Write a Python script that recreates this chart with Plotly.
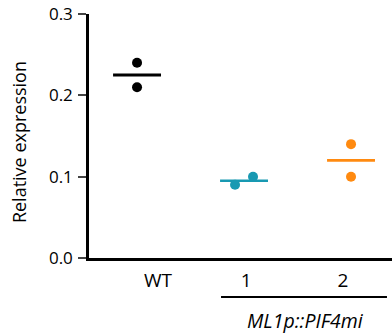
import plotly.graph_objects as go

groups = ["WT", "1", "2"]
group_pos = [0, 1, 2]
points_x = [[0, 0], [0.916, 1.084], [2, 2]]
points_y = [[0.24, 0.21], [0.09, 0.10], [0.14, 0.10]]
means = [0.225, 0.095, 0.12]
colors = ["#000000", "#1899B2", "#FF8A10"]
label_pos = [0.196, 1.02, 1.925]
yticks = [0.0, 0.1, 0.2, 0.3]
ytick_text = ["0.0", "0.1", "0.2", "0.3"]

FONT = "Open Sans"
half = 0.224

fig = go.Figure()
for i in range(3):
    fig.add_trace(go.Scatter(
        x=[group_pos[i] - half, group_pos[i] + half], y=[means[i], means[i]],
        mode="lines", line=dict(color=colors[i], width=3 if i == 0 else 2.6),
        showlegend=False, hoverinfo="skip"))
    fig.add_trace(go.Scatter(
        x=points_x[i], y=points_y[i], mode="markers",
        marker=dict(color=colors[i], size=10, line=dict(width=0)),
        showlegend=False))

fig.add_shape(type="line", xref="x", yref="paper", x0=0.785, x1=2.336, y0=-0.16, y1=-0.16,
              line=dict(color="black", width=2))
fig.add_annotation(text="<i>ML1p::PIF4mi</i>", xref="x", yref="paper", x=1.57, y=-0.255,
                   xanchor="center", yanchor="middle",
                   showarrow=False, font=dict(family=FONT, size=19.5, color="black"))
fig.add_annotation(text="Relative expression", xref="paper", yref="paper", x=-0.231, y=0.475,
                   xanchor="center", yanchor="middle",
                   textangle=-90, showarrow=False, font=dict(family=FONT, size=18, color="black"))

fig.update_layout(
    width=392, height=335, margin=dict(l=89, r=0, t=14, b=77),
    plot_bgcolor="white", paper_bgcolor="white",
    font=dict(family=FONT, size=17, color="black"),
    xaxis=dict(range=[-0.449, 2.383], showline=True, linecolor="black", linewidth=2.5,
               showgrid=False, zeroline=False, ticks="", tickvals=label_pos, ticktext=groups,
               tickfont=dict(size=19), ticklabelstandoff=3),
    yaxis=dict(range=[0, 0.3], showline=True, linecolor="black", linewidth=2.5,
               showgrid=False, zeroline=False, ticks="outside", ticklen=8, tickwidth=2,
               tickvals=yticks, ticktext=ytick_text, tickfont=dict(size=17),
               ticklabelstandoff=2),
)
fig.write_html("out.html")
